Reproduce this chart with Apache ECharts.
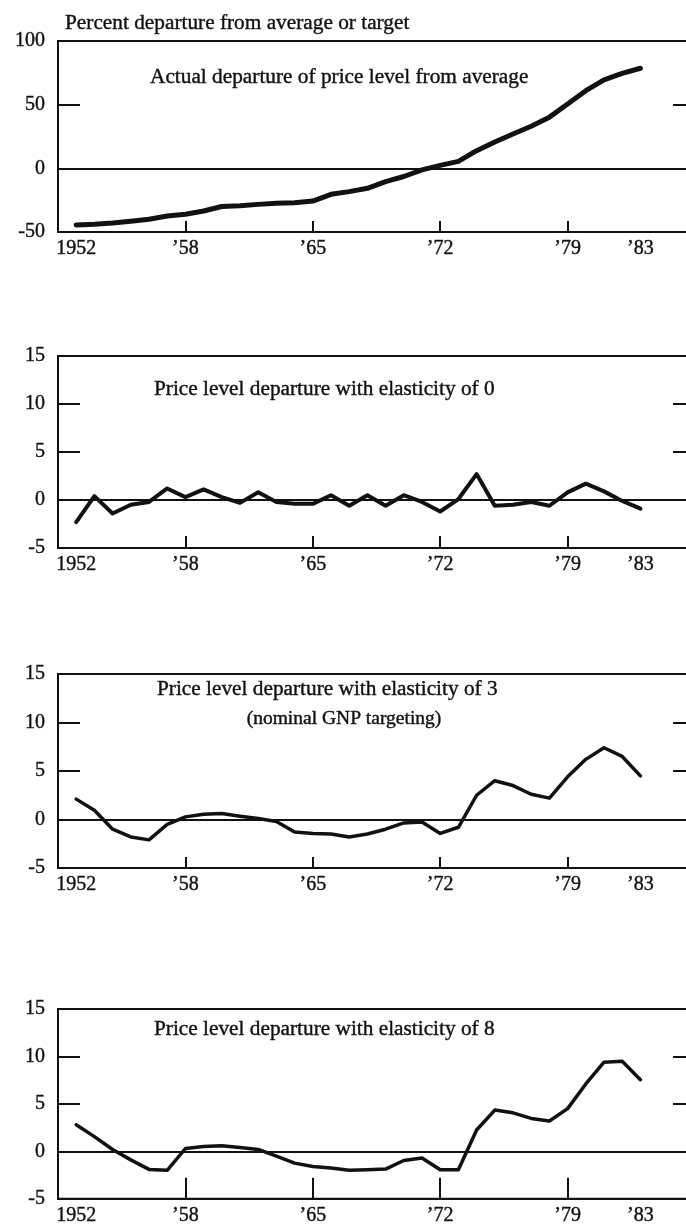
<!DOCTYPE html>
<html><head><meta charset="utf-8">
<script src="https://cdn.jsdelivr.net/npm/echarts@6/dist/echarts.min.js"></script>
<style>html,body{margin:0;padding:0;background:#fff;overflow:hidden}#c{width:700px;height:1226px}</style>
</head><body><div id="c"></div>
<script>
// ---- data ----
const years = [1952,1953,1954,1955,1956,1957,1958,1959,1960,1961,1962,1963,1964,1965,1966,1967,
               1968,1969,1970,1971,1972,1973,1974,1975,1976,1977,1978,1979,1980,1981,1982,1983];
const actualDeparture = [-44.5,-44,-43,-41.5,-40,-37.5,-36,-33.5,-30,-29.4,-28.3,-27.5,-27,-25.7,-20.4,-18.3,
                         -15.7,-10.4,-6.4,-1.2,2.3,5.5,13.9,20.7,27,33.1,40.2,50.5,61,69.5,74.5,78.6];
const elasticity0 = [-2.3,0.4,-1.4,-0.5,-0.2,1.2,0.3,1.1,0.3,-0.3,0.8,-0.2,-0.4,-0.4,0.5,-0.6,
                     0.5,-0.6,0.5,-0.2,-1.2,0.1,2.7,-0.6,-0.5,-0.2,-0.6,0.8,1.7,0.9,-0.1,-0.9];
const elasticity3 = [2.1,0.95,-1.0,-1.8,-2.1,-0.5,0.27,0.54,0.62,0.34,0.1,-0.2,-1.3,-1.44,-1.5,-1.8,
                     -1.5,-1.0,-0.35,-0.25,-1.44,-0.8,2.5,4.0,3.5,2.6,2.2,4.4,6.2,7.4,6.5,4.5];
const elasticity8 = [2.8,1.55,0.2,-0.9,-1.9,-2.0,0.3,0.5,0.6,0.4,0.2,-0.5,-1.24,-1.6,-1.76,-2.0,
                     -1.94,-1.87,-0.96,-0.7,-1.94,-1.94,2.25,4.35,4.06,3.47,3.2,4.5,7.1,9.4,9.5,7.55];
const xTickLabelYears = [1952,1958,1965,1972,1979,1983];
const xTickMarkYears = [1958,1965,1972,1979];
const axisTitle = 'Percent departure from average or target';
const captions = [
  'Actual departure of price level from average',
  'Price level departure with elasticity of 0',
  'Price level departure with elasticity of 3',
  '(nominal GNP targeting)',
  'Price level departure with elasticity of 8'
];

// ---- presentation ----
const FONT = '"Liberation Serif", "DejaVu Serif", serif';
const INK = '#111';
const FS_NUM = 20;
const FS_TXT = 21.3;
const panels = [
  {data: actualDeparture, min: -50, max: 100, interval: 50, top: 41,  height: 191, lw: 5,   xTick: 11},
  {data: elasticity0,     min: -5,  max: 15,  interval: 5,  top: 356, height: 192, lw: 4,   xTick: 12},
  {data: elasticity3,     min: -5,  max: 15,  interval: 5,  top: 674, height: 194, lw: 3.5, xTick: 11},
  {data: elasticity8,     min: -5,  max: 15,  interval: 5,  top: 1009, height: 191, lw: 3.5, xTick: 21}
];
const fmtYear = v => v === 1952 ? '1952' : '\u2019' + String(v).slice(2);
const fmtY = v => String(v);
const labelStyle = {color: INK, fontFamily: FONT, fontSize: FS_NUM, textBorderColor: INK, textBorderWidth: 0.4};

const grid = [], xAxis = [], yAxis = [], series = [];
panels.forEach((p, i) => {
  grid.push({left: 58, width: 637, top: p.top, height: p.height, show: true,
             borderColor: INK, borderWidth: 2, backgroundColor: 'transparent'});
  xAxis.push({type: 'value', gridIndex: i, min: 1951, max: 1986,
    axisLine: {show: true, onZero: false, lineStyle: {color: INK, width: 2}},
    axisTick: {show: true, inside: true, length: p.xTick, customValues: xTickMarkYears,
               lineStyle: {color: INK, width: 2}},
    axisLabel: Object.assign({show: true, customValues: xTickLabelYears, formatter: fmtYear, margin: 7}, labelStyle),
    splitLine: {show: false}});
  yAxis.push({type: 'value', gridIndex: i, min: p.min, max: p.max, interval: p.interval, position: 'left',
    axisLine: {show: true, lineStyle: {color: INK, width: 2}},
    axisTick: {show: true, inside: true, length: 22, lineStyle: {color: INK, width: 2}},
    axisLabel: Object.assign({show: true, margin: 13, formatter: fmtY}, labelStyle),
    splitLine: {show: false}});
  yAxis.push({type: 'value', gridIndex: i, min: p.min, max: p.max, interval: p.interval, position: 'right',
    axisLine: {show: false},
    axisTick: {show: true, inside: true, length: 22, lineStyle: {color: INK, width: 2}},
    axisLabel: {show: false}, splitLine: {show: false}});
  series.push({type: 'line', xAxisIndex: i, yAxisIndex: i * 2,
    data: years.map((y, k) => [y, p.data[k]]),
    showSymbol: false, symbol: 'none', smooth: false, z: 5,
    lineStyle: {color: INK, width: p.lw, cap: 'round', join: 'round'},
    markLine: {silent: true, symbol: ['none', 'none'], label: {show: false},
      lineStyle: {color: INK, width: 2, type: 'solid'}, data: [{yAxis: 0}]}});
});

const txt = (text, x, y, align, fs) => ({type: 'text', x: x, y: y, silent: true,
  style: {text: text, x: 0, y: 0, fill: INK, stroke: INK, lineWidth: 0.4,
          font: (fs || FS_TXT) + 'px ' + FONT,
          textAlign: align || 'left', textVerticalAlign: 'middle'}});

const chart = echarts.init(document.getElementById('c'), null, {renderer: 'canvas'});
chart.setOption({
  animation: false,
  backgroundColor: '#fff',
  grid, xAxis, yAxis, series,
  graphic: [
    txt(axisTitle, 65, 23),
    txt(captions[0], 150, 77),
    txt(captions[1], 154, 389),
    txt(captions[2], 157, 689),
    txt(captions[3], 344, 719, 'center', 19.5),
    txt(captions[4], 154, 1029)
  ]
});
</script>
</body></html>
